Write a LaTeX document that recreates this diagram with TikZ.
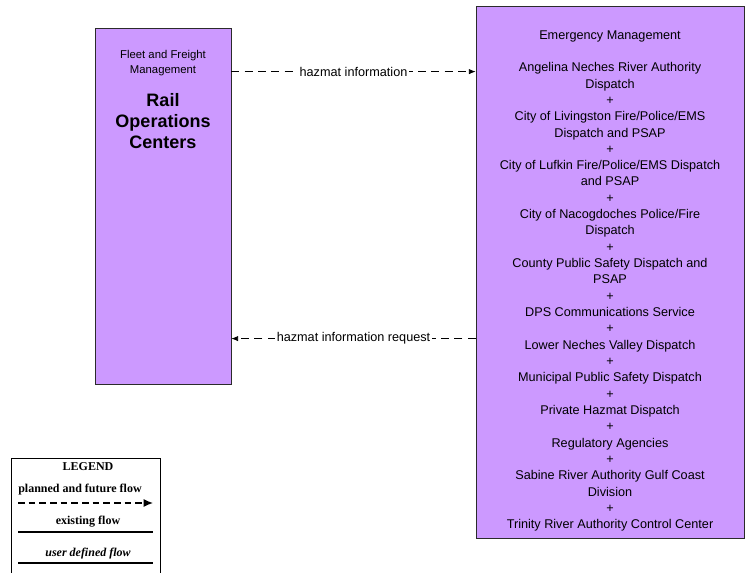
\documentclass[tikz,border=0pt]{standalone}
\usepackage{fontspec}
\setmainfont{Liberation Sans}
\newfontfamily\legendfont{Liberation Serif}
\usetikzlibrary{arrows.meta,calc}
\definecolor{Lilac}{HTML}{CC99FF}
\definecolor{Edge}{HTML}{2B2B2B}
\tikzset{
  element/.style={draw=Edge, fill=Lilac, line width=0.6pt, inner sep=0pt},
  flow/.style={draw=black, line width=0.6pt, dash pattern=on 6pt off 4pt,
    -{Latex[length=5pt,width=4pt]}},
  flowlabel/.style={fill=white, inner sep=1.5pt, font=\fontsize{9.5}{11}\selectfont},
  legendtext/.style={font=\legendfont\bfseries\fontsize{9}{10}\selectfont, inner sep=0pt},
}
\newcommand{\elemtext}{\fontsize{9.5}{12.24}\selectfont}

\begin{document}
\begin{tikzpicture}[x=0.75pt,y=-0.75pt]
  \useasboundingbox (0,0) rectangle (745,573);
  % elements
  \node[element, minimum width=102pt, minimum height=267pt] (roc) at (163,206) {};
  \node[element, minimum width=201pt, minimum height=399pt] (em) at (610,272) {};
  \node[anchor=north, align=center, inner sep=0pt,
    font=\fontsize{8.5}{11.25}\selectfont] (rocsub) at ($(roc.north)+(0,22)$)
    {Fleet and Freight\\Management};
  \node[anchor=north, align=center, inner sep=0pt,
    font=\bfseries\fontsize{13.5}{15.75}\selectfont] (roctitle) at ($(roc.north)+(0,66)$)
    {Rail\\Operations\\Centers};
  \node[anchor=north, align=center, inner sep=0pt, font=\elemtext] (emtext)
    at ($(em.north)+(0,24.5)$) {Emergency Management\\[12.24pt]
    Angelina Neches River Authority\\Dispatch\\+\\
    City of Livingston Fire/Police/EMS\\Dispatch and PSAP\\+\\
    City of Lufkin Fire/Police/EMS Dispatch\\and PSAP\\+\\
    City of Nacogdoches Police/Fire\\Dispatch\\+\\
    County Public Safety Dispatch and\\PSAP\\+\\
    DPS Communications Service\\+\\
    Lower Neches Valley Dispatch\\+\\
    Municipal Public Safety Dispatch\\+\\
    Private Hazmat Dispatch\\+\\
    Regulatory Agencies\\+\\
    Sabine River Authority Gulf Coast\\Division\\+\\
    Trinity River Authority Control Center};
  % flows
  \coordinate (hi) at ($(roc.north east)+(0,44)$);
  \coordinate (hir) at ($(roc.north east)+(0,311)$);
  \draw[flow] (hi) -- (em.west |- hi) node[midway, flowlabel] {hazmat information};
  \draw[flow] (em.west |- hir) -- (hir) node[midway, flowlabel] {hazmat information request};
  % legend
  \draw[line width=0.6pt] (11,573) |- (160,458) -- (160,573);
  \node[legendtext] (lg) at (88,467) {LEGEND};
  \node[legendtext, anchor=west] (lgplan) at (18,490) {planned and future flow};
  \coordinate (pa) at (18,503);
  \coordinate (pb) at (153,503);
  \draw[line width=1pt, dash pattern=on 5pt off 3pt, -{Latex[length=7pt,width=6pt]}] (pa) -- (pb);
  \node[legendtext] (lgex) at (88,522) {existing flow};
  \coordinate (ea) at (18,532);
  \coordinate (eb) at (153,532);
  \draw[line width=0.8pt] (ea) -- (eb);
  \node[legendtext, font=\legendfont\bfseries\itshape\fontsize{9}{10}\selectfont] (lgud) at (88,554) {user defined flow};
  \coordinate (ua) at (18,563);
  \coordinate (ub) at (153,563);
  \draw[line width=1.5pt] (ua) -- (ub);
\end{tikzpicture}
\end{document}
